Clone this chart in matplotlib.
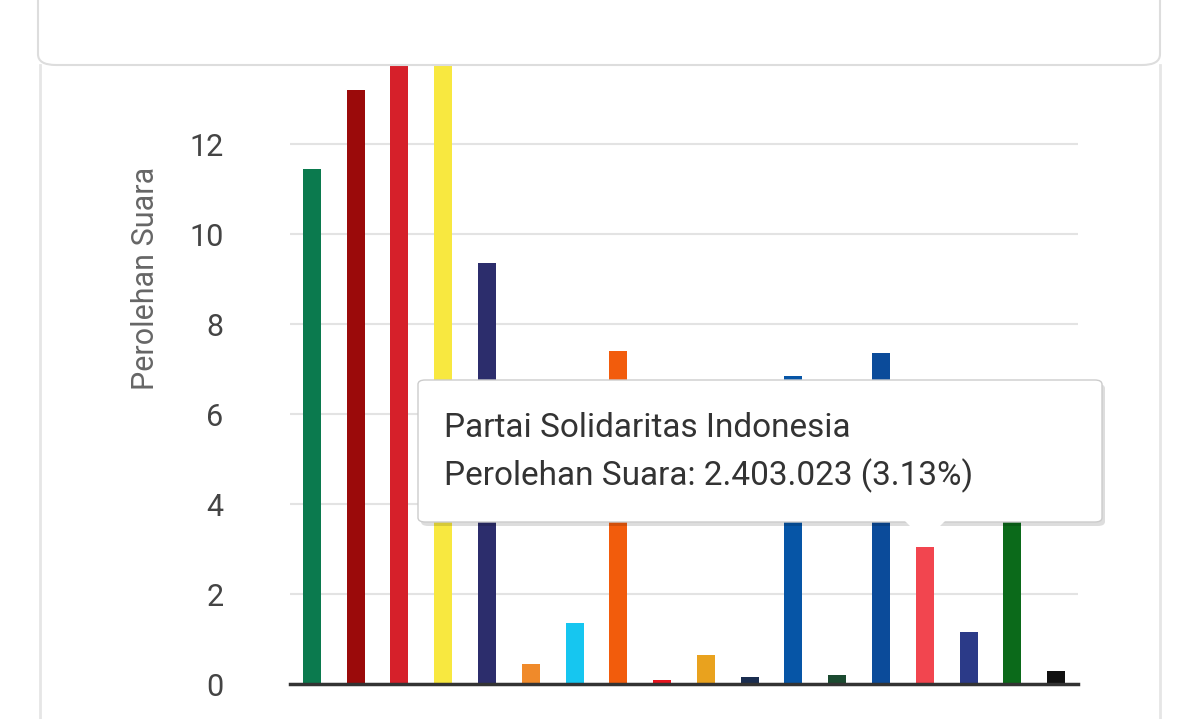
import matplotlib.pyplot as plt
from matplotlib.patches import FancyBboxPatch, Polygon
import numpy as np

plt.rcParams['font.family'] = ['Roboto', 'DejaVu Sans']

parties = ["PKB", "Gerindra", "PDIP", "Golkar", "Nasdem", "Buruh", "Gelora", "PKS",
           "PKN", "Hanura", "Garuda", "PAN", "PBB", "Demokrat", "PSI", "Perindo", "PPP", "Ummat"]
votes = [11.45, 13.2, 16.7, 15.3, 9.35, 0.45, 1.35, 7.4,
         0.1, 0.65, 0.15, 6.85, 0.2, 7.35, 3.05, 1.15, 3.87, 0.28]
colors = ["#0b7a4e", "#9b0a0a", "#d6202a", "#f8e840", "#2c2d6c", "#f08a2a", "#16c6f0", "#f25c0c",
          "#e8141e", "#e9a21e", "#1a2d4f", "#0655a6", "#1b4a30", "#0b4b9a", "#f2454f", "#2b3a88",
          "#0b6a1a", "#111111"]
yticks = [0, 2, 4, 6, 8, 10, 12]

W, H = 1200, 719
fig = plt.figure(figsize=(12, 7.19), dpi=100)
ax = fig.add_axes([290 / W, 1 - 684 / H, (1078 - 290) / W, (684 - 65) / H])

x = np.arange(len(parties))
ax.bar(x, votes, width=0.41, color=colors, zorder=3)
ax.set_xlim(-0.5, len(parties) - 0.5)
ax.set_ylim(0, (684 - 65) / 45)
ax.set_yticks(yticks)
ax.set_yticklabels([str(t) for t in yticks], fontsize=22, color="#444444")
ax.tick_params(axis="y", length=0, pad=48)
ax.set_xticks([])
ax.grid(axis="y", color="#e3e3e3", linewidth=1.5, zorder=0)
for s in ["top", "right", "left"]:
    ax.spines[s].set_visible(False)
ax.spines["bottom"].set_color("#333333")
ax.spines["bottom"].set_linewidth(2.5)
ax.spines["bottom"].set_zorder(4)
ax.set_ylabel("Perolehan Suara", fontsize=22, color="#666666")
ax.yaxis.set_label_coords(-0.165, 0.656)

# side borders of panel
fig.add_artist(plt.Line2D([40 / W, 40 / W], [0, 1 - 65 / H], color="#e6e6e6", lw=2))
fig.add_artist(plt.Line2D([1160 / W, 1160 / W], [0, 1 - 65 / H], color="#e6e6e6", lw=2))

# top card
card = FancyBboxPatch((38 / W, 1 - 65 / H), (1160 - 38) / W, 0.2,
                      boxstyle="round,pad=0,rounding_size=0.015",
                      transform=fig.transFigure, facecolor="white",
                      edgecolor="#dddddd", lw=1.5, zorder=5)
fig.add_artist(card)

# tooltip
shadow = FancyBboxPatch((421 / W, 1 - 526 / H), (1102 - 418) / W, (522 - 380) / H,
                        boxstyle="round,pad=0,rounding_size=0.006",
                        transform=fig.transFigure, facecolor="#00000022",
                        edgecolor="none", zorder=6)
fig.add_artist(shadow)
tip = FancyBboxPatch((418 / W, 1 - 522 / H), (1102 - 418) / W, (522 - 380) / H,
                     boxstyle="round,pad=0,rounding_size=0.006",
                     transform=fig.transFigure, facecolor="white",
                     edgecolor="#cccccc", lw=1, zorder=7)
fig.add_artist(tip)
fig.add_artist(Polygon([[905 / W, 1 - 521 / H], [945 / W, 1 - 521 / H], [925 / W, 1 - 541 / H]],
                       closed=True, transform=fig.transFigure, facecolor="white",
                       edgecolor="none", zorder=8))
fig.text(444 / W, 1 - 428 / H, "Partai Solidaritas Indonesia", fontsize=24,
         color="#333333", va="center", zorder=9)
fig.text(444 / W, 1 - 476 / H, "Perolehan Suara: 2.403.023 (3.13%)", fontsize=24,
         color="#333333", va="center", zorder=9)

fig.savefig("out.png", dpi=100, facecolor="white")
